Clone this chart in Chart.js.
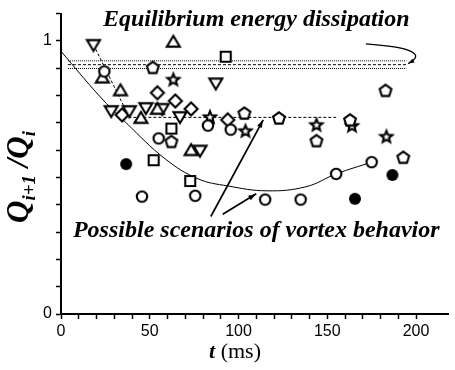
<!DOCTYPE html>
<html><head><meta charset="utf-8">
<script src="https://cdn.jsdelivr.net/npm/chart.js@4"></script>
<style>html,body{margin:0;padding:0;background:#fff}</style>
</head><body><canvas id="c" width="455" height="370"></canvas>
<script>
// ---- data (t in ms, ratio Q_{i+1}/Q_i) ----
const openCircleX = [24.4, 55.0, 82.8, 95.6, 45.6, 75.6, 115.0, 135.0, 155.0, 175.0];
const openCircleY = [0.888, 0.643, 0.690, 0.675, 0.430, 0.433, 0.419, 0.419, 0.513, 0.556];
const filledCircleX = [36.7, 165.6, 186.7];
const filledCircleY = [0.549, 0.422, 0.509];
const squareX = [92.8, 62.2, 52.2, 72.8];
const squareY = [0.942, 0.679, 0.563, 0.487];
const triUpX = [63.3, 23.3, 33.5, 45.0, 54.3, 73.3];
const triUpY = [0.996, 0.865, 0.818, 0.717, 0.750, 0.599];
const triDownX = [18.3, 87.2, 28.3, 38.5, 47.8, 57.0, 67.0, 78.3];
const triDownY = [0.986, 0.845, 0.744, 0.744, 0.755, 0.752, 0.722, 0.599];
const diamondX = [34.4, 54.3, 64.4, 73.3, 93.9];
const diamondY = [0.729, 0.810, 0.780, 0.751, 0.711];
const pentagonX = [51.7, 62.2, 103.3, 122.8, 143.9, 162.8, 182.8, 192.8];
const pentagonY = [0.903, 0.632, 0.736, 0.718, 0.635, 0.711, 0.819, 0.574];
const starX = [63.3, 83.9, 103.9, 143.9, 163.9, 183.3];
const starY = [0.859, 0.722, 0.671, 0.693, 0.690, 0.650];

const curveX = [0, 21.7, 36.7, 58.9, 77.2, 93.9, 116, 138, 155, 175];
const curveY = [0.962, 0.798, 0.700, 0.567, 0.495, 0.469, 0.451, 0.466, 0.513, 0.556];
const trendX = [18.3, 38.5, 155];
const trendY = [0.986, 0.72, 0.72];
const eqX = [3.9, 194.5];
const eqTopY = [0.927, 0.927];
const eqMidY = [0.913, 0.913];
const eqBotY = [0.899, 0.899];

const xTickLabels = [0, 50, 100, 150, 200];
const yTickLabels = [0, 1];

const noteTexts = ['Equilibrium energy dissipation', 'Possible scenarios of vortex behavior'];
const noteX = [110, 110];
const noteY = [1.055, 0.282];
// arrows: [x0,y0,x1,y1] in data units
const arrow1 = [84.4, 0.357, 113.9, 0.711];
const arrow2 = [91.1, 0.365, 110.0, 0.440];
const curvedArrow = [171.7, 0.989, 210.6, 0.971, 195.6, 0.917];

// ---- marker images ----
function marker(shape) {
  const c = document.createElement('canvas');
  c.width = 18; c.height = 18;
  const g = c.getContext('2d');
  g.translate(9, 9);
  g.lineWidth = 2.1;
  g.strokeStyle = '#000';
  g.fillStyle = '#fff';
  g.lineJoin = 'miter';
  g.beginPath();
  if (shape === 'circle') { g.arc(0, 0, 5.2, 0, Math.PI * 2); }
  else if (shape === 'filled') { g.arc(0, 0, 6, 0, Math.PI * 2); g.fillStyle = '#000'; }
  else if (shape === 'square') { g.rect(-5, -5, 10, 10); }
  else if (shape === 'triUp') { g.moveTo(0, -6.3); g.lineTo(6.5, 4.6); g.lineTo(-6.5, 4.6); g.closePath(); }
  else if (shape === 'triDown') { g.moveTo(0, 6.3); g.lineTo(6.5, -4.6); g.lineTo(-6.5, -4.6); g.closePath(); }
  else if (shape === 'diamond') { g.moveTo(0, -6.5); g.lineTo(6.5, 0); g.lineTo(0, 6.5); g.lineTo(-6.5, 0); g.closePath(); }
  else if (shape === 'pentagon') {
    for (let k = 0; k < 5; k++) { const a = -Math.PI / 2 + k * 2 * Math.PI / 5; const px = 6.2 * Math.cos(a), py = 6.2 * Math.sin(a) + 0.6; k ? g.lineTo(px, py) : g.moveTo(px, py); }
    g.closePath();
  } else if (shape === 'star') {
    for (let k = 0; k < 10; k++) { const a = -Math.PI / 2 + k * Math.PI / 5; const r = k % 2 ? 2.7 : 6.2; const px = r * Math.cos(a), py = r * Math.sin(a) + 0.5; k ? g.lineTo(px, py) : g.moveTo(px, py); }
    g.closePath();
  }
  g.fill();
  if (shape !== 'filled') g.stroke();
  return c;
}
const pts = (xs, ys) => xs.map((x, i) => ({x: x, y: ys[i]}));
function markerSet(xs, ys, shape) {
  return {data: pts(xs, ys), pointStyle: marker(shape), pointRadius: 6, showLine: false, order: 1};
}
function lineSet(xs, ys, dash, w, tension) {
  return {data: pts(xs, ys), showLine: true, pointRadius: 0, borderColor: '#000', borderWidth: w,
          borderDash: dash, tension: tension || 0, order: 10, fill: false};
}

function arrowHead(ctx, x0, y0, x1, y1, len, wid) {
  const a = Math.atan2(y1 - y0, x1 - x0);
  ctx.beginPath();
  ctx.moveTo(x1, y1);
  ctx.lineTo(x1 - len * Math.cos(a) + wid * Math.sin(a), y1 - len * Math.sin(a) - wid * Math.cos(a));
  ctx.lineTo(x1 - len * Math.cos(a) - wid * Math.sin(a), y1 - len * Math.sin(a) + wid * Math.cos(a));
  ctx.closePath();
  ctx.fill();
}

const decor = {
  id: 'decor',
  afterDraw(chart) {
    const ctx = chart.ctx, xs = chart.scales.x, ys = chart.scales.y;
    const X = v => xs.getPixelForValue(v), Y = v => ys.getPixelForValue(v);
    ctx.save();
    ctx.fillStyle = '#000'; ctx.strokeStyle = '#000';
    // straight arrows
    [arrow1, arrow2].forEach(a => {
      const x0 = X(a[0]), y0 = Y(a[1]), x1 = X(a[2]), y1 = Y(a[3]);
      ctx.lineWidth = 1.7;
      ctx.beginPath(); ctx.moveTo(x0, y0); ctx.lineTo(x1, y1); ctx.stroke();
      arrowHead(ctx, x0, y0, x1, y1, 8, 2.6);
    });
    // curved arrow
    const c = curvedArrow;
    ctx.lineWidth = 1.3;
    ctx.beginPath(); ctx.moveTo(X(c[0]), Y(c[1])); ctx.quadraticCurveTo(X(c[2]), Y(c[3]), X(c[4]), Y(c[5])); ctx.stroke();
    arrowHead(ctx, X(c[2]), Y(c[3]), X(c[4]), Y(c[5]), 6, 2.2);
    // notes
    ctx.font = 'bold italic 24px "Liberation Serif"';
    ctx.textAlign = 'center'; ctx.textBaseline = 'alphabetic';
    noteTexts.forEach((t, i) => ctx.fillText(t, X(noteX[i]), Y(noteY[i])));
    // x title
    ctx.textAlign = 'left';
    const fT = 'bold italic 22px "Liberation Serif"', fR = '22px "Liberation Serif"';
    ctx.font = fT; const w1 = ctx.measureText('t').width;
    ctx.font = fR; const w2 = ctx.measureText(' (ms)').width;
    let sx = 235 - (w1 + w2) / 2;
    ctx.font = fT; ctx.fillText('t', sx, 358);
    ctx.font = fR; ctx.fillText(' (ms)', sx + w1, 358);
    // y title
    const big = 'bold italic 31px "Liberation Serif"', small = 'bold italic 19px "Liberation Serif"';
    const parts = [['Q', big, 0], ['i+1', small, 7], [' /', big, 0], ['Q', big, 0], ['i', small, 7]];
    let tot = 0;
    parts.forEach(p => { ctx.font = p[1]; p.push(ctx.measureText(p[0]).width); tot += p[3]; });
    ctx.translate(28, 177); ctx.rotate(-Math.PI / 2);
    let px = -tot / 2;
    parts.forEach(p => { ctx.font = p[1]; ctx.fillText(p[0], px, p[2]); px += p[3]; });
    ctx.restore();
  }
};

new Chart(document.getElementById('c'), {
  type: 'scatter',
  data: {datasets: [
    markerSet(openCircleX, openCircleY, 'circle'),
    markerSet(filledCircleX, filledCircleY, 'filled'),
    markerSet(squareX, squareY, 'square'),
    markerSet(triUpX, triUpY, 'triUp'),
    markerSet(triDownX, triDownY, 'triDown'),
    markerSet(diamondX, diamondY, 'diamond'),
    markerSet(pentagonX, pentagonY, 'pentagon'),
    markerSet(starX, starY, 'star'),
    lineSet(curveX, curveY, [], 1, 0.4),
    lineSet(trendX, trendY, [3, 2], 1),
    lineSet(eqX, eqTopY, [1, 1], 1),
    lineSet(eqX, eqMidY, [3, 2], 1),
    lineSet(eqX, eqBotY, [1, 1], 1)
  ]},
  options: {
    responsive: false, animation: false,
    layout: {padding: {left: 0, right: 2, top: 9, bottom: 0}},
    plugins: {legend: {display: false}, tooltip: {enabled: false}},
    scales: {
      x: {
        type: 'linear', min: 0, max: 218,
        afterBuildTicks: s => { s.ticks = s.ticks.filter(t => Math.abs(t.value / 10 - Math.round(t.value / 10)) < 1e-6 && t.value <= 210); },
        afterFit: s => { s.height = 56; },
        border: {color: '#000', width: 2},
        grid: {drawOnChartArea: false, drawTicks: true, tickLength: 5, tickColor: '#000', tickWidth: 1.5},
        ticks: {stepSize: 10, autoSkip: false, maxRotation: 0, padding: 3, color: '#000',
          font: {family: '"Liberation Sans"', size: 16},
          callback: v => xTickLabels.includes(Math.round(v)) && Math.abs(v - Math.round(v)) < 1e-6 ? String(Math.round(v)) : ''}
      },
      y: {
        min: 0, max: 1.1,
        afterFit: s => { s.width = 61; },
        border: {color: '#000', width: 2},
        grid: {drawOnChartArea: false, drawTicks: true, tickLength: 5, tickColor: '#000', tickWidth: 1.5},
        ticks: {stepSize: 0.1, autoSkip: false, padding: 4, color: '#000',
          font: {family: '"Liberation Sans"', size: 16},
          callback: v => { const r = yTickLabels.find(t => Math.abs(v - t) < 1e-6); return r === undefined ? '' : String(r); }}
      }
    }
  },
  plugins: [decor]
});
</script></body></html>
